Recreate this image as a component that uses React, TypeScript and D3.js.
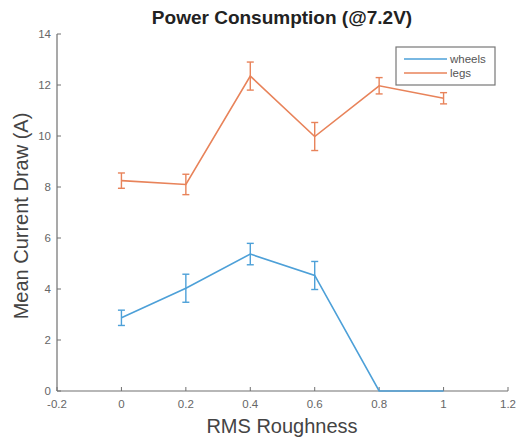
import React from "react";
import * as d3 from "d3";

const xValues = [0, 0.2, 0.4, 0.6, 0.8, 1.0];
const wheelsMean = [2.87, 4.03, 5.37, 4.53, 0, 0];
const wheelsErr = [0.3, 0.55, 0.42, 0.55, 0, 0];
const legsMean = [8.25, 8.1, 12.35, 9.98, 11.97, 11.48];
const legsErr = [0.3, 0.4, 0.55, 0.55, 0.32, 0.22];
const xTicks = [-0.2, 0, 0.2, 0.4, 0.6, 0.8, 1, 1.2];
const yTicks = [0, 2, 4, 6, 8, 10, 12, 14];
const seriesNames = ["wheels", "legs"];
const seriesColors = ["#4da0d8", "#e8835a"];

const W = 519;
const H = 439;
const left = 57;
const right = 508;
const top = 34;
const bottom = 391;

export default function App() {
  const x = d3.scaleLinear().domain([-0.2, 1.2]).range([left, right]);
  const y = d3.scaleLinear().domain([0, 14]).range([bottom, top]);
  const line = d3
    .line<[number, number]>()
    .x((d) => x(d[0]))
    .y((d) => y(d[1]));
  const series = [
    { mean: wheelsMean, err: wheelsErr },
    { mean: legsMean, err: legsErr },
  ];
  const axisColor = "#707070";
  return (
    <svg
      width={W}
      height={H}
      style={{ position: "absolute", left: 0, top: 0, background: "#fff" }}
      fontFamily="Liberation Sans, Arial, sans-serif"
    >
      <rect x={0} y={0} width={W} height={H} fill="#fff" />
      {/* axes */}
      <line x1={left} x2={left} y1={top} y2={bottom} stroke={axisColor} strokeWidth={1.2} />
      <line x1={left} x2={right} y1={bottom} y2={bottom} stroke={axisColor} strokeWidth={1.2} />
      {yTicks.map((t) => (
        <g key={"y" + t}>
          <line x1={left} x2={left + 4} y1={y(t)} y2={y(t)} stroke={axisColor} strokeWidth={1} />
          <text x={left - 6} y={y(t)} dy="0.35em" textAnchor="end" fontSize={11.5} fill="#666">
            {String(t)}
          </text>
        </g>
      ))}
      {xTicks.map((t) => (
        <g key={"x" + t}>
          <line x1={x(t)} x2={x(t)} y1={bottom} y2={bottom - 4} stroke={axisColor} strokeWidth={1} />
          <text x={x(t)} y={bottom + 17} textAnchor="middle" fontSize={11.5} fill="#666">
            {String(t)}
          </text>
        </g>
      ))}
      {/* series */}
      {series.map((s, i) => {
        const pts: [number, number][] = xValues.map((xv, j) => [xv, s.mean[j]]);
        return (
          <g key={"s" + i}>
            <path d={line(pts) || ""} fill="none" stroke={seriesColors[i]} strokeWidth={1.6} />
            {xValues.map((xv, j) =>
              s.err[j] > 0 ? (
                <g key={j} stroke={seriesColors[i]} strokeWidth={1.4}>
                  <line x1={x(xv)} x2={x(xv)} y1={y(s.mean[j] - s.err[j])} y2={y(s.mean[j] + s.err[j])} />
                  <line x1={x(xv) - 3.5} x2={x(xv) + 3.5} y1={y(s.mean[j] - s.err[j])} y2={y(s.mean[j] - s.err[j])} />
                  <line x1={x(xv) - 3.5} x2={x(xv) + 3.5} y1={y(s.mean[j] + s.err[j])} y2={y(s.mean[j] + s.err[j])} />
                </g>
              ) : null
            )}
          </g>
        );
      })}
      {/* title */}
      <text x={282} y={24} textAnchor="middle" fontSize={19} fontWeight="bold" fill="#222">
        Power Consumption (@7.2V)
      </text>
      {/* axis labels */}
      <text x={282} y={433} textAnchor="middle" fontSize={20} fill="#444">
        RMS Roughness
      </text>
      <text
        transform={`translate(28, 216) rotate(-90)`}
        textAnchor="middle"
        fontSize={20}
        fill="#444"
      >
        Mean Current Draw (A)
      </text>
      {/* legend */}
      <rect x={396} y={47} width={99} height={38} fill="#fff" stroke="#777" strokeWidth={1.2} />
      {seriesNames.map((n, i) => (
        <g key={n}>
          <line x1={404} x2={447} y1={59 + i * 14} y2={59 + i * 14} stroke={seriesColors[i]} strokeWidth={1.6} />
          <text x={450} y={59 + i * 14} dy="0.35em" fontSize={11.5} fill="#555">
            {n}
          </text>
        </g>
      ))}
    </svg>
  );
}
